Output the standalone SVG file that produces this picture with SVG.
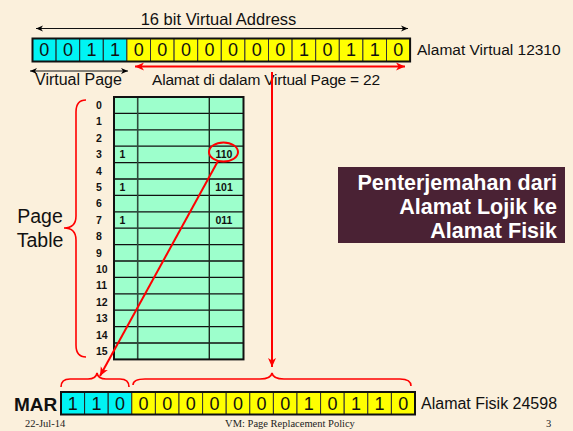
<svg xmlns="http://www.w3.org/2000/svg" width="573" height="431" viewBox="0 0 573 431">
<defs>
<marker id="ab" markerWidth="8" markerHeight="8" refX="7" refY="4" orient="auto-start-reverse" markerUnits="userSpaceOnUse"><path d="M0,1 L7,4 L0,7 L2,4 Z" fill="#000"/></marker>
<marker id="ar" markerWidth="10" markerHeight="10" refX="9" refY="5" orient="auto-start-reverse" markerUnits="userSpaceOnUse"><path d="M0,1 L9,5 L0,9 L2.5,5 Z" fill="#f00"/></marker>
<style>
.t{font-family:"Liberation Sans",Arial,sans-serif;fill:#111}
.d{font-family:"Liberation Sans",Arial,sans-serif;font-size:18px;text-anchor:middle;fill:#111}
.n{font-family:"Liberation Sans",Arial,sans-serif;font-size:10.5px;font-weight:bold;fill:#111}
.c{fill:#00f4f4;stroke:#222;stroke-width:1}
.y{fill:#ffff00;stroke:#333;stroke-width:1}
.f{font-family:"Liberation Serif","Times New Roman",serif;font-size:10.5px;fill:#222}
.red{stroke:#f00;stroke-width:2;fill:none}
.blk{stroke:#111;stroke-width:1;fill:none}
.hw{font-family:"Liberation Sans",Arial,sans-serif;font-size:21.5px;font-weight:bold;fill:#fff;text-anchor:end}
</style>
</defs>
<rect width="573" height="431" fill="#fbf0dc"/>

<g id="virtual-register">
<rect class="c" x="32.5" y="38.5" width="23.6" height="23"/>
<rect class="c" x="56.1" y="38.5" width="23.6" height="23"/>
<rect class="c" x="79.7" y="38.5" width="23.6" height="23"/>
<rect class="c" x="103.3" y="38.5" width="23.6" height="23"/>
<rect class="y" x="126.9" y="38.5" width="23.6" height="23"/>
<rect class="y" x="150.5" y="38.5" width="23.6" height="23"/>
<rect class="y" x="174.1" y="38.5" width="23.6" height="23"/>
<rect class="y" x="197.7" y="38.5" width="23.6" height="23"/>
<rect class="y" x="221.3" y="38.5" width="23.6" height="23"/>
<rect class="y" x="244.9" y="38.5" width="23.6" height="23"/>
<rect class="y" x="268.5" y="38.5" width="23.6" height="23"/>
<rect class="y" x="292.1" y="38.5" width="23.6" height="23"/>
<rect class="y" x="315.7" y="38.5" width="23.6" height="23"/>
<rect class="y" x="339.3" y="38.5" width="23.6" height="23"/>
<rect class="y" x="362.9" y="38.5" width="23.6" height="23"/>
<rect class="y" x="386.5" y="38.5" width="23.6" height="23"/>
<rect x="32.5" y="38.5" width="377.6" height="23" fill="none" stroke="#111" stroke-width="2"/>
<text class="d" y="56"><tspan x="44.3">0</tspan><tspan x="67.9">0</tspan><tspan x="91.5">1</tspan><tspan x="115.1">1</tspan><tspan x="138.7">0</tspan><tspan x="162.3">0</tspan><tspan x="185.9">0</tspan><tspan x="209.5">0</tspan><tspan x="233.1">0</tspan><tspan x="256.7">0</tspan><tspan x="280.3">0</tspan><tspan x="303.9">1</tspan><tspan x="327.5">0</tspan><tspan x="351.1">1</tspan><tspan x="374.7">1</tspan><tspan x="398.3">0</tspan></text>
<text class="t" x="417" y="55" font-size="15.5">Alamat Virtual 12310</text>
</g>

<g id="labels-top">
<text class="t" x="218.5" y="25" font-size="16.5" text-anchor="middle">16 bit Virtual Address</text>
<text class="t" x="35" y="85" font-size="16">Virtual Page</text>
<text class="t" x="152" y="85" font-size="15.5" letter-spacing="-0.2">Alamat di dalam Virtual Page = 22</text>
</g>

<g id="page-table">
<rect x="114" y="97" width="129.5" height="262.4" fill="#9dffcc"/>
<g stroke="#111" stroke-width="1.3">
<line x1="114" y1="113.4" x2="243.5" y2="113.4"/><line x1="114" y1="129.8" x2="243.5" y2="129.8"/>
<line x1="114" y1="146.2" x2="243.5" y2="146.2"/><line x1="114" y1="162.6" x2="243.5" y2="162.6"/>
<line x1="114" y1="179" x2="243.5" y2="179"/><line x1="114" y1="195.4" x2="243.5" y2="195.4"/>
<line x1="114" y1="211.8" x2="243.5" y2="211.8"/><line x1="114" y1="228.2" x2="243.5" y2="228.2"/>
<line x1="114" y1="244.6" x2="243.5" y2="244.6"/><line x1="114" y1="261" x2="243.5" y2="261"/>
<line x1="114" y1="277.4" x2="243.5" y2="277.4"/><line x1="114" y1="293.8" x2="243.5" y2="293.8"/>
<line x1="114" y1="310.2" x2="243.5" y2="310.2"/><line x1="114" y1="326.6" x2="243.5" y2="326.6"/>
<line x1="114" y1="343" x2="243.5" y2="343"/>
</g>
<line x1="137.7" y1="97" x2="137.7" y2="359.4" stroke="#2f4a3c" stroke-width="1.6"/>
<line x1="209.3" y1="97" x2="209.3" y2="359.4" stroke="#1a2a20" stroke-width="1.4"/>
<rect x="114" y="97" width="129.5" height="262.4" fill="none" stroke="#111" stroke-width="2"/>
<g class="n">
<text x="96" y="109">0</text><text x="96" y="125.4">1</text><text x="96" y="141.8">2</text><text x="96" y="158.2">3</text>
<text x="96" y="174.6">4</text><text x="96" y="191">5</text><text x="96" y="207.4">6</text><text x="96" y="223.8">7</text>
<text x="96" y="240.2">8</text><text x="96" y="256.6">9</text><text x="96" y="273">10</text><text x="96" y="289.4">11</text>
<text x="96" y="305.8">12</text><text x="96" y="322.2">13</text><text x="96" y="338.6">14</text><text x="96" y="355">15</text>
<text x="119.5" y="158.2">1</text><text x="119.5" y="191">1</text><text x="119.5" y="223.8">1</text>
<text x="224" y="158.2" text-anchor="middle">110</text><text x="224" y="191" text-anchor="middle">101</text><text x="224" y="223.8" text-anchor="middle">011</text>
</g>
<path d="M86,100 Q76,100 76,112 L76,216 Q76,228 64,228 Q76,228 76,240 L76,345 Q76,357 86,357" stroke="#f00" stroke-width="1.6" fill="none"/>
<text class="t" x="40" y="223" font-size="19.5" text-anchor="middle">Page</text>
<text class="t" x="40" y="247" font-size="19.5" text-anchor="middle">Table</text>
</g>

<g id="title-box">
<rect x="338" y="167" width="227" height="76" fill="#4a2234"/>
<text class="hw" x="557" y="190">Penterjemahan dari</text>
<text class="hw" x="557" y="214">Alamat Lojik ke</text>
<text class="hw" x="557" y="237.5">Alamat Fisik</text>
</g>

<g id="mar-register">
<rect class="c" x="61" y="392" width="23.6" height="22.5"/>
<rect class="c" x="84.6" y="392" width="23.6" height="22.5"/>
<rect class="c" x="108.2" y="392" width="23.6" height="22.5"/>
<rect class="y" x="131.8" y="392" width="23.6" height="22.5"/>
<rect class="y" x="155.4" y="392" width="23.6" height="22.5"/>
<rect class="y" x="179" y="392" width="23.6" height="22.5"/>
<rect class="y" x="202.6" y="392" width="23.6" height="22.5"/>
<rect class="y" x="226.2" y="392" width="23.6" height="22.5"/>
<rect class="y" x="249.8" y="392" width="23.6" height="22.5"/>
<rect class="y" x="273.4" y="392" width="23.6" height="22.5"/>
<rect class="y" x="297" y="392" width="23.6" height="22.5"/>
<rect class="y" x="320.6" y="392" width="23.6" height="22.5"/>
<rect class="y" x="344.2" y="392" width="23.6" height="22.5"/>
<rect class="y" x="367.8" y="392" width="23.6" height="22.5"/>
<rect class="y" x="391.4" y="392" width="23.6" height="22.5"/>
<rect x="61" y="392" width="354" height="22.5" fill="none" stroke="#111" stroke-width="2"/>
<text class="d" y="410" font-size="19"><tspan x="72.8">1</tspan><tspan x="96.4">1</tspan><tspan x="120">0</tspan><tspan x="143.6">0</tspan><tspan x="167.2">0</tspan><tspan x="190.8">0</tspan><tspan x="214.4">0</tspan><tspan x="238">0</tspan><tspan x="261.6">0</tspan><tspan x="285.2">0</tspan><tspan x="308.8">1</tspan><tspan x="332.4">0</tspan><tspan x="356">1</tspan><tspan x="379.6">1</tspan><tspan x="403.2">0</tspan></text>
<text class="t" x="14" y="411" font-size="19" font-weight="bold">MAR</text>
<text class="t" x="421" y="409" font-size="16">Alamat Fisik 24598</text>
</g>

<g id="connectors">
<line class="blk" x1="36" y1="28.5" x2="408" y2="28.5" marker-start="url(#ab)" marker-end="url(#ab)"/>
<line class="blk" x1="30" y1="71" x2="128" y2="71" marker-start="url(#ab)" marker-end="url(#ab)"/>
<line class="red" x1="135" y1="66.5" x2="405" y2="66.5" marker-start="url(#ar)" marker-end="url(#ar)"/>
<line class="red" x1="272" y1="72" x2="272" y2="367" marker-end="url(#ar)"/>
<ellipse class="red" cx="223.5" cy="152" rx="14.5" ry="9.5"/>
<line class="red" x1="218" y1="161" x2="100" y2="376" marker-end="url(#ar)"/>
<path d="M61,387 Q61,379 70,379 L88,379 Q96,379 97,373 Q98,379 106,379 L120,379 Q129,379 129,387" stroke="#f00" stroke-width="1.6" fill="none"/>
<path d="M133,385 Q133,379 145,379 L260,379 Q271,379 272,373 Q273,379 284,379 L400,379 Q411,379 411,386" stroke="#f00" stroke-width="1.6" fill="none"/>
</g>

<g id="footer">
<text class="f" x="25" y="427">22-Jul-14</text>
<text class="f" x="290" y="427" text-anchor="middle">VM: Page Replacement Policy</text>
<text class="f" x="546" y="427">3</text>
</g>
</svg>
